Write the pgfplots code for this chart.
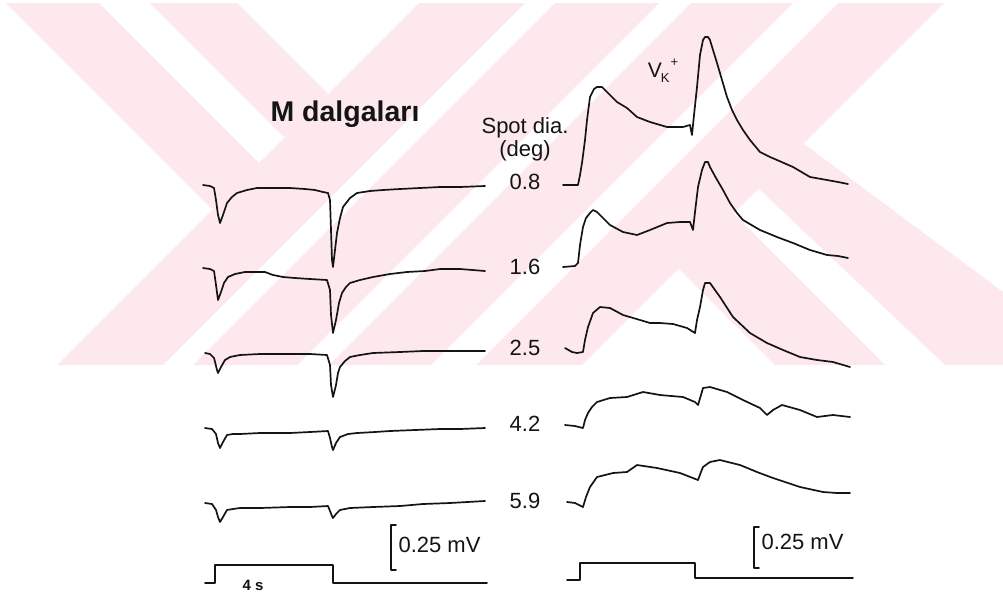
\documentclass[border=0pt]{standalone}
\usepackage{pgfplots}
\pgfplotsset{compat=1.18}
\usepackage{fontspec}
\setmainfont{Liberation Sans}
\definecolor{wm}{RGB}{253,233,237}
\definecolor{ink}{RGB}{20,20,20}
\tikzset{tr/.style={draw=ink,solid,mark=none,line width=1.7pt,line join=round,line cap=round}}
\begin{document}
\begin{tikzpicture}
\begin{axis}[width=1003pt,height=595pt,scale only axis,
  xmin=0,xmax=1003,ymin=0,ymax=595,y dir=reverse,hide axis,clip=true]
% background
\addplot[draw=none,fill=white] coordinates {(0,0)(1003,0)(1003,595)(0,595)} -- cycle;
% watermark bands
\addplot[draw=none,fill=wm] coordinates {(6,3)(99,3)(259,163)(212.5,209.5)} -- cycle;
\addplot[draw=none,fill=wm] coordinates {(150,3)(237,3)(328,94)(284.5,137.5)} -- cycle;
\addplot[draw=none,fill=wm] coordinates {(419,3)(525,3)(163,365)(57,365)} -- cycle;
\addplot[draw=none,fill=wm] coordinates {(555,3)(659,3)(297,365)(193,365)} -- cycle;
\addplot[draw=none,fill=wm] coordinates {(691,3)(793,3)(431,365)(329,365)} -- cycle;
\addplot[draw=none,fill=wm] coordinates {(838,3)(944,3)(582,365)(476,365)} -- cycle;
\addplot[draw=none,fill=wm] coordinates {(678.5,268.5)(733.5,213.5)(885,365)(775,365)} -- cycle;
\addplot[draw=none,fill=wm] coordinates {(758.5,188.5)(803.5,143.5)(1003,292)(1003,365)(945,365)} -- cycle;

% left traces
\addplot[tr] coordinates {(203,185)(210,186)(214,188)(216,200)(218,215)(220,223)(223,215)(227,203)(232,197)(237,193)(247,190)(257,188)(270,188)(290,188)(305,189)(315,190)(323,192)(328,193)(330,200)(331,230)(332,260)(333,267)(335,250)(337,233)(340,218)(343,207)(350,198)(357,193)(370,191)(383,190)(400,189)(420,188)(440,187)(460,187)(485,186)};
\addplot[tr] coordinates {(203,268)(210,269)(214,271)(216,285)(218,300)(221,292)(224,283)(228,277)(235,274)(245,272)(257,272)(265,272)(273,275)(283,277)(295,278)(310,279)(327,280)(330,290)(331,315)(333,333)(336,320)(339,303)(342,293)(346,287)(350,283)(360,280)(373,277)(390,274)(407,272)(425,271)(440,269)(460,269)(485,271)};
\addplot[tr] coordinates {(205,353)(210,354)(214,358)(217,370)(218,373)(221,367)(225,360)(230,357)(240,355)(260,354)(290,354)(310,354)(327,355)(330,365)(331,385)(333,397)(336,385)(338,373)(340,367)(345,361)(350,357)(360,355)(373,353)(400,352)(423,351)(450,351)(485,351)};
\addplot[tr] coordinates {(205,428)(212,429)(216,434)(218,443)(220,448)(223,442)(227,435)(233,434)(240,434)(260,433)(290,433)(310,432)(328,431)(330,438)(332,447)(333,450)(336,443)(340,437)(348,434)(357,433)(375,432)(390,431)(415,430)(440,429)(460,429)(485,428)};
\addplot[tr] coordinates {(205,503)(212,504)(216,510)(218,517)(220,522)(223,517)(227,510)(233,509)(240,508)(260,508)(290,507)(310,507)(328,506)(330,511)(332,516)(333,518)(336,514)(340,510)(350,508)(373,507)(400,506)(423,504)(450,503)(485,501)};
\addplot[tr] coordinates {(205,583)(215,583)(215,565)(333,565)(333,583)(487,583)};
% right traces
\addplot[tr] coordinates {(563,185)(578,185)(580,175)(582,163)(585,140)(587,120)(590,97)(594,89)(597,87)(602,87)(607,92)(612,97)(617,102)(627,108)(637,117)(650,122)(667,127)(683,127)(690,125)(692,135)(694,115)(697,87)(700,55)(703,40)(705,37)(708,37)(710,40)(713,50)(717,63)(722,80)(727,97)(732,110)(737,120)(743,130)(750,140)(760,152)(770,157)(777,160)(793,167)(810,177)(827,180)(838,182)(848,184)};
\addplot[tr] coordinates {(563,267)(575,266)(578,263)(580,245)(583,227)(586,218)(590,213)(593,210)(597,212)(600,215)(610,225)(623,232)(637,235)(650,230)(667,223)(680,222)(690,222)(693,230)(695,212)(698,187)(702,170)(705,162)(708,162)(710,167)(716,178)(723,190)(730,203)(737,213)(743,220)(760,230)(777,237)(793,243)(810,250)(827,255)(838,256)(848,258)};
\addplot[tr] coordinates {(565,348)(572,352)(577,353)(583,352)(585,340)(588,327)(593,313)(600,307)(610,308)(623,315)(640,320)(650,323)(660,323)(673,324)(687,328)(695,333)(697,320)(700,307)(703,290)(705,283)(710,283)(715,290)(720,297)(733,317)(750,333)(767,343)(783,350)(800,357)(817,360)(833,362)(850,367)};
\addplot[tr] coordinates {(565,425)(575,426)(583,428)(585,420)(588,413)(592,407)(597,402)(610,398)(627,397)(643,392)(660,395)(683,397)(695,402)(698,405)(701,395)(703,388)(710,387)(727,392)(743,400)(760,408)(767,415)(773,410)(782,405)(800,410)(817,417)(833,415)(850,417)};
\addplot[tr] coordinates {(567,502)(575,503)(583,507)(586,497)(590,487)(597,477)(613,473)(627,472)(637,465)(657,468)(680,473)(698,480)(701,472)(703,467)(710,462)(720,460)(740,465)(757,472)(773,478)(800,487)(823,492)(837,493)(850,493)};
\addplot[tr] coordinates {(567,580)(580,580)(580,563)(695,563)(695,578)(853,578)};
% scale bars
\addplot[tr,line width=1.5pt] coordinates {(396,525)(391,525)(391,570)(396,570)};
\addplot[tr,line width=1.5pt] coordinates {(759,527)(754,527)(754,568)(759,568)};

% texts
\node[ink,font=\fontsize{28.5}{30}\selectfont\bfseries] at (axis cs:345,114) {M dalgaları};
\node[ink,font=\fontsize{22}{23}\selectfont,align=center] at (axis cs:525,139) {Spot dia.\\(deg)};
\node[ink,font=\fontsize{22}{24}\selectfont] at (axis cs:525,182) {0.8};
\node[ink,font=\fontsize{22}{24}\selectfont] at (axis cs:525,267) {1.6};
\node[ink,font=\fontsize{22}{24}\selectfont] at (axis cs:525,348) {2.5};
\node[ink,font=\fontsize{22}{24}\selectfont] at (axis cs:525,424) {4.2};
\node[ink,font=\fontsize{22}{24}\selectfont] at (axis cs:525,501) {5.9};
\node[ink,font=\fontsize{22}{24}\selectfont,anchor=west] at (axis cs:395,545) {0.25 mV};
\node[ink,font=\fontsize{22}{24}\selectfont,anchor=west] at (axis cs:758,542) {0.25 mV};
\node[ink,font=\fontsize{15}{16}\selectfont\bfseries] at (axis cs:253,585) {4 s};
\node[ink,font=\fontsize{21}{22}\selectfont,inner sep=0pt] at (axis cs:663,71) {V\kern-1pt\raisebox{-0.45ex}{\fontsize{13}{14}\selectfont K\kern1pt}\raisebox{1.0ex}{\fontsize{13}{14}\selectfont +}};
\end{axis}
\end{tikzpicture}
\end{document}
